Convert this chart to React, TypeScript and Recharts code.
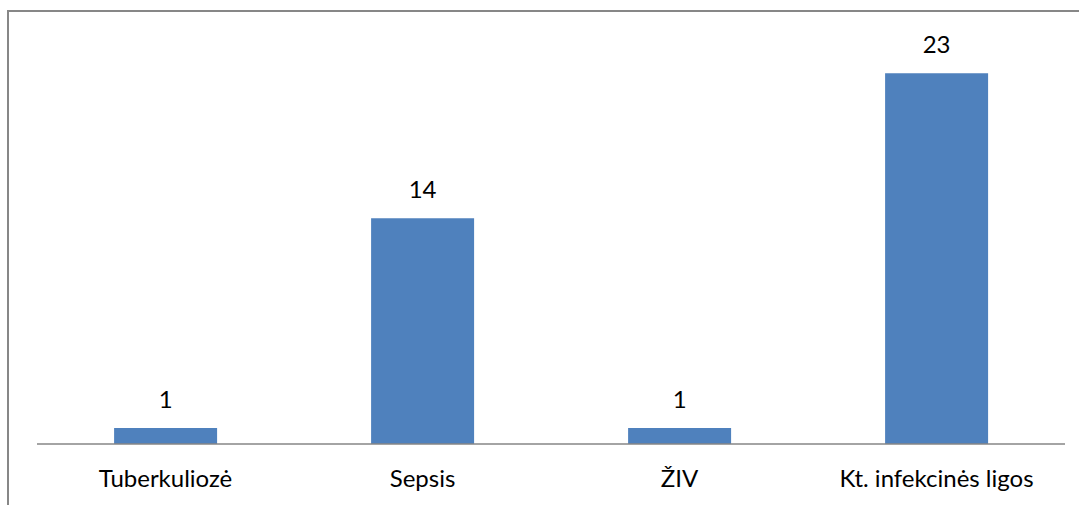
import { BarChart, Bar, XAxis, YAxis, LabelList } from "recharts"

// kategorijos ir reikšmės
const categories = ["Tuberkuliozė", "Sepsis", "ŽIV", "Kt. infekcinės ligos"]
const values = [1, 14, 1, 23]

const data = categories.map((name, i) => ({ name, value: values[i] }))

const FONT = "Lato, 'Open Sans', sans-serif"

export default function App() {
  return (
    <div style={{ position: "absolute", left: 0, top: 0, width: 1079, height: 505, background: "#fff", overflow: "hidden" }}>
      {/* rėmelis - tik viršus ir kairė matosi */}
      <div
        style={{
          position: "absolute",
          left: 7,
          top: 10,
          width: 1100,
          height: 520,
          borderTop: "2px solid #878787",
          borderLeft: "2px solid #878787",
        }}
      />
      <BarChart
        width={1079}
        height={505}
        data={data}
        margin={{ top: 41, right: 14, bottom: 0, left: 37 }}
        barCategoryGap="30%"
        style={{ fontFamily: FONT }}
      >
        <YAxis hide domain={[0, 25]} width={0} />
        <XAxis
          dataKey="name"
          height={61}
          tickLine={false}
          axisLine={{ stroke: "#868686", strokeWidth: 1.5 }}
          tick={{ fill: "#000", fontSize: 24, fontFamily: FONT }}
          tickMargin={20}
          interval={0}
        />
        <Bar dataKey="value" fill="#4F81BD" isAnimationActive={false}>
          <LabelList dataKey="value" position="top" offset={20} fill="#000" fontSize={24} fontFamily={FONT} />
        </Bar>
      </BarChart>
    </div>
  )
}
